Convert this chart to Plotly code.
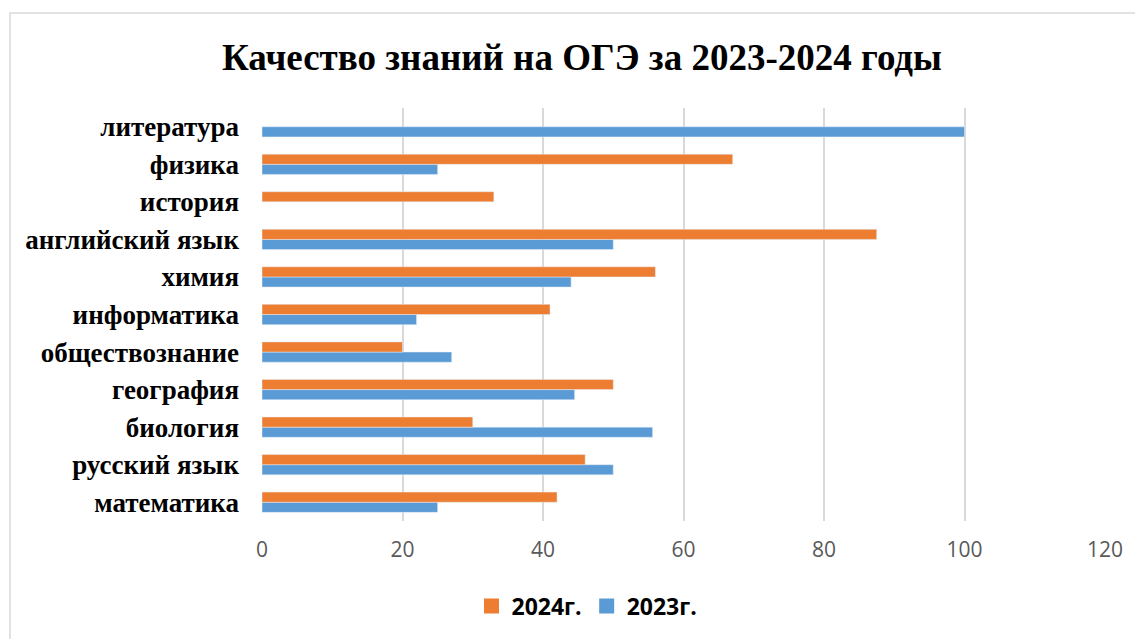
import plotly.graph_objects as go

categories = ["математика", "русский язык", "биология", "география", "обществознание",
              "информатика", "химия", "английский язык", "история", "физика", "литература"]
values_2023 = [25, 50, 55.6, 44.5, 27, 22, 44, 50, None, 25, 100]
values_2024 = [42, 46, 30, 50, 20, 41, 56, 87.5, 33, 67, None]
x_ticks = [0, 20, 40, 60, 80, 100, 120]
series_names = ["2023г.", "2024г."]
series_colors = ["#5B9BD5", "#ED7D31"]

W, H = 1143, 639
OFF = 8  # page body margin
L, R, T, B = 262 - OFF, 38 + OFF, 108 - OFF, 118 + OFF

fig = go.Figure()
for name, vals, col in zip(series_names, [values_2023, values_2024], series_colors):
    fig.add_trace(go.Bar(y=categories, x=vals, orientation="h", name=name,
                         marker=dict(color=col), showlegend=False))
for name, col in zip(series_names, series_colors):
    fig.add_trace(go.Scatter(x=[None], y=[None], mode="markers", name=name,
                             marker=dict(symbol="square", size=15, color=col), showlegend=True))

pw, ph = W - L - R, H - T - B
fx0, fy0 = 10 - OFF, 13 - OFF
fig.add_shape(type="rect", xref="paper", yref="paper",
              x0=(fx0 - L) / pw, x1=(W + 5 - L) / pw,
              y0=(-5 - B) / ph, y1=(H - fy0 - B) / ph,
              line=dict(color="#D9D9D9", width=1.5), fillcolor="rgba(0,0,0,0)", layer="below")

fig.update_layout(
    width=W, height=H,
    margin=dict(l=L, r=R, t=T, b=B),
    paper_bgcolor="white", plot_bgcolor="white",
    barmode="group", bargap=0.46, bargroupgap=0,
    title=dict(text="<b>Качество знаний на ОГЭ за 2023-2024 годы</b>",
               font=dict(family="Liberation Serif", size=37, color="black"),
               x=(582 - OFF) / W, xref="container", xanchor="center",
               y=1 - (57 - OFF) / H, yref="container", yanchor="middle"),
    xaxis=dict(range=[0, 120], tickvals=x_ticks, showgrid=True, gridcolor="#D9D9D9",
               gridwidth=1.5, zeroline=False, showline=False,
               tickfont=dict(family="Open Sans", size=21, color="#595959"),
               ticklabelstandoff=14, fixedrange=True),
    yaxis=dict(showgrid=False, zeroline=False, showline=False,
               tickfont=dict(family="Liberation Serif", size=27, color="black"),
               ticklabelstandoff=22, range=[-0.5, 10.5]),
    legend=dict(orientation="h", traceorder="reversed",
                x=(587 - OFF) / W, xref="container", xanchor="center",
                y=1 - (606 - OFF) / H, yref="container", yanchor="middle",
                font=dict(family="Open Sans", size=23, color="black", weight="bold"),
                itemwidth=30),
    showlegend=True,
)
fig.update_yaxes(tickprefix="<b>", ticksuffix="</b>")

fig.write_html("out.html")
